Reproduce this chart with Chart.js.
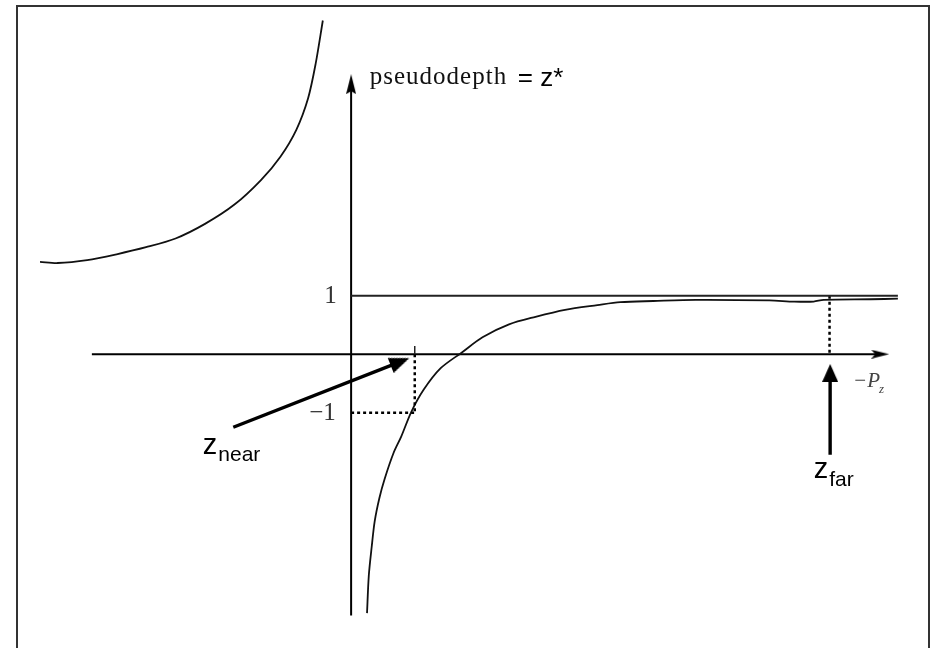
<!DOCTYPE html>
<html>
<head>
<meta charset="utf-8">
<script src="https://cdn.jsdelivr.net/npm/chart.js@4/dist/chart.umd.min.js"></script>
<style>
  html, body { margin: 0; padding: 0; background: #fff; overflow: hidden; }
  #wrap { position: relative; width: 933px; height: 648px; }
  #c { display: block; }
  #frame { position: absolute; left: 16px; top: 5px; width: 910px; height: 641px; border: 2px solid #333; pointer-events: none; }
</style>
</head>
<body>
<div id="wrap">
  <canvas id="c" width="933" height="648"></canvas>
  <div id="frame"></div>
</div>
<script>
// curve, x = -Pz, y = pseudodepth
const leftBranch = [
  [-5.28, 1.58], [-4.98, 1.56], [-4.48, 1.61], [-3.98, 1.71], [-3.48, 1.83],
  [-2.98, 1.98], [-2.48, 2.23], [-1.98, 2.56], [-1.53, 2.98], [-1.2, 3.38],
  [-0.93, 3.84], [-0.73, 4.38], [-0.6, 4.98], [-0.48, 5.71]
];
const rightBranch = [
  [0.27, -4.43], [0.3, -3.79], [0.35, -3.29], [0.4, -2.86], [0.48, -2.46],
  [0.57, -2.13], [0.72, -1.69], [0.85, -1.41], [1.02, -0.99], [1.23, -0.61],
  [1.52, -0.24], [1.88, 0.03], [2.23, 0.29], [2.68, 0.51], [3.13, 0.64],
  [3.63, 0.76], [4.18, 0.84], [4.57, 0.89], [5.13, 0.91], [5.85, 0.93],
  [7.1, 0.92], [7.52, 0.9], [7.85, 0.9], [8.02, 0.93], [8.82, 0.94], [9.28, 0.95]
];

// axes, guides and arrows
const yAxisLine = [[0, -4.47], [0, 4.62]];
const xAxisLine = [[-4.4, 0], [8.98, 0]];
const oneLine = [[0, 1], [9.28, 1]];
const zNear = 1.08;
const zFar = 8.12;
const zNearTick = [[zNear, 0.14], [zNear, 0]];
const zNearDrop = [[zNear, 0], [zNear, -1]];
const zNearLevel = [[0, -1], [zNear, -1]];
const zFarDrop = [[zFar, 1], [zFar, 0]];
const zNearArrow = [[-2.0, -1.25], [0.83, -0.13]];
const zFarArrow = [[8.13, -1.72], [8.13, -0.32]];

// texts
const tickValues = [1, -1];
const tickLabels = ['1', '\u22121'];
const yTitle = 'pseudodepth';
const yTitleEq = '= z*';
const xTitle = ['\u2212P', 'z'];
const nearLabel = ['z', 'near'];
const farLabel = ['z', 'far'];

// pixel placement of the origin, 60 px per unit
const OX = 349, OY = 355, UNIT = 60;
const W = 933, H = 648;

function toPts(arr) { return arr.map(p => ({ x: p[0], y: p[1] })); }

function makeHead(len, width, notch) {
  const c = document.createElement('canvas');
  c.width = width; c.height = len;
  const g = c.getContext('2d');
  g.fillStyle = '#000';
  g.beginPath();
  g.moveTo(width / 2, 0);
  g.lineTo(width, len);
  g.lineTo(width / 2, len - notch);
  g.lineTo(0, len);
  g.closePath();
  g.fill();
  return c;
}

const axisHeadY = makeHead(20, 10, 3);
const axisHeadX = makeHead(18, 9, 4);
const bigHead = makeHead(20, 16, 0);
const bigHeadFar = makeHead(18, 16, 0);

function line(data, opts) {
  return Object.assign({
    data: toPts(data),
    showLine: true,
    borderColor: '#222',
    borderWidth: 1.5,
    pointRadius: 0,
    tension: 0
  }, opts || {});
}

function arrow(data, head, rot, width) {
  const last = data.length - 1;
  return line(data, {
    borderColor: '#000',
    borderWidth: width,
    pointRadius: c => c.dataIndex === last ? 5 : 0,
    pointStyle: c => c.dataIndex === last ? head : 'circle',
    pointRotation: rot
  });
}

const dotted = { borderColor: '#000', borderWidth: 2.5, borderDash: [3, 3] };
const serif = '"Liberation Serif", "DejaVu Serif", serif';
const sans = '"Liberation Sans", Arial, sans-serif';

const textPlugin = {
  id: 'texts',
  afterDatasetsDraw(chart) {
    const ctx = chart.ctx;
    const xs = chart.scales.x, ys = chart.scales.y;
    const px = v => xs.getPixelForValue(v);
    const py = v => ys.getPixelForValue(v);
    function put(str, x, y, font, color, align, base, spacing) {
      ctx.save();
      ctx.font = font;
      ctx.fillStyle = color;
      ctx.textAlign = align || 'left';
      ctx.textBaseline = base || 'alphabetic';
      if (spacing) ctx.letterSpacing = spacing;
      ctx.fillText(str, x, y);
      const w = ctx.measureText(str).width;
      ctx.restore();
      return w;
    }
    // tick labels
    put(tickLabels[0], px(-0.35), py(tickValues[0]) + 1, '25px ' + serif, '#333', 'center', 'middle');
    put(tickLabels[1], px(-0.26), py(tickValues[1]) + 1, '25px ' + serif, '#333', 'right', 'middle');
    // y axis title
    put(yTitle, px(0.317), 84, '25px ' + serif, '#111', 'left', 'alphabetic', '1px');
    put(yTitleEq, px(2.83), 86, '26px ' + sans, '#000');
    // x axis title
    const wP = put(xTitle[0], px(8.52), py(-0.56), 'italic 21px ' + serif, '#444');
    put(xTitle[1], px(8.52) + wP - 1, py(-0.66), 'italic 13px ' + serif, '#444');
    // z near / z far
    const wn = put(nearLabel[0], px(-2.517), py(-1.7), '29px ' + sans, '#000');
    put(nearLabel[1], px(-2.517) + wn + 1, py(-1.833), '21px ' + sans, '#000');
    const wf = put(farLabel[0], px(7.85), py(-2.117), '29px ' + sans, '#000');
    put(farLabel[1], px(7.85) + wf + 1, py(-2.25), '21px ' + sans, '#000');
  }
};

new Chart(document.getElementById('c'), {
  type: 'scatter',
  data: {
    datasets: [
      line(oneLine, { borderColor: '#222', borderWidth: 2 }),
      line(zNearTick, { borderWidth: 1.5 }),
      line(zNearDrop, dotted),
      line(zNearLevel, dotted),
      line(zFarDrop, dotted),
      line(leftBranch, { tension: 0.3, borderColor: '#111', borderWidth: 1.8 }),
      line(rightBranch, { tension: 0.3, borderColor: '#111', borderWidth: 1.8 }),
      arrow(yAxisLine, axisHeadY, 0, 2),
      arrow(xAxisLine, axisHeadX, 90, 2),
      arrow(zNearArrow, bigHead, 68.4, 3.4),
      arrow(zFarArrow, bigHeadFar, 0, 3.4)
    ]
  },
  options: {
    responsive: false,
    animation: false,
    layout: { padding: 0 },
    plugins: { legend: { display: false }, tooltip: { enabled: false } },
    scales: {
      x: { type: 'linear', display: false, min: -OX / UNIT, max: (W - OX) / UNIT },
      y: { type: 'linear', display: false, min: -(H - OY) / UNIT, max: OY / UNIT }
    }
  },
  plugins: [textPlugin]
});
</script>
</body>
</html>
